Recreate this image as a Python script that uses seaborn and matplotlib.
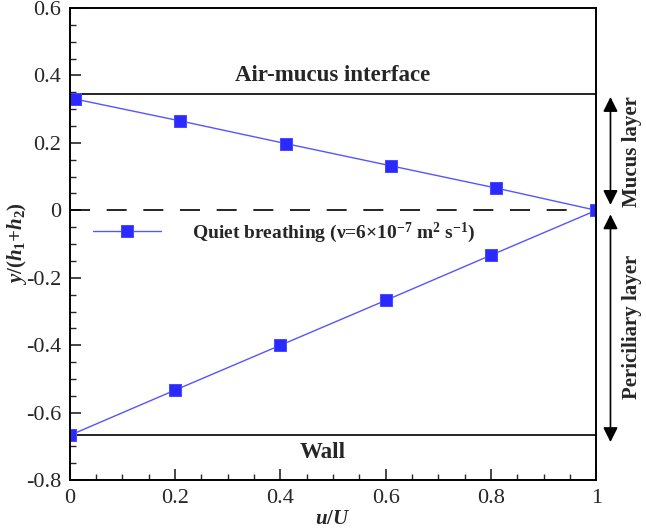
import matplotlib
matplotlib.use("Agg")
import matplotlib.pyplot as plt
import seaborn as sns
import pandas as pd

# velocity profile, quiet breathing (mucus layer on top, periciliary layer below)
u_over_U = [0.01, 0.21, 0.41, 0.61, 0.81, 1.0, 0.8, 0.6, 0.4, 0.2, 0.0]
y_over_h = [0.33, 0.265, 0.198, 0.132, 0.066, 0.0, -0.133, -0.267, -0.4, -0.533, -0.667]
interface_y = 0.345
wall_y = -0.667
x_ticks = [0, 0.2, 0.4, 0.6, 0.8, 1]
y_ticks = [-0.8, -0.6, -0.4, -0.2, 0, 0.2, 0.4, 0.6]

sns.set_style("ticks")
plt.rcParams['font.family'] = ['Liberation Serif', 'DejaVu Serif']
plt.rcParams['mathtext.fontset'] = 'custom'
plt.rcParams['mathtext.rm'] = 'Liberation Serif:bold'
plt.rcParams['mathtext.it'] = 'Liberation Serif:italic:bold'
plt.rcParams['mathtext.bf'] = 'Liberation Serif:bold'
plt.rcParams['axes.unicode_minus'] = False

df = pd.DataFrame({'u': u_over_U, 'y': y_over_h})

fig = plt.figure(figsize=(6.46, 5.30), dpi=100)
ax = fig.add_axes([0.108, 0.094, 0.815, 0.891])

sns.lineplot(data=df, x='u', y='y', sort=False, estimator=None, ax=ax,
             color='#5555ff', lw=1.0, marker='s', markersize=8,
             markerfacecolor='#2a2aff', markeredgecolor='#4a4aff',
             label='Quiet breathing (\u03bd=6\u00d710$^{-7}$ m$^{2}$ s$^{-1}$)')

ax.axhline(interface_y, color='black', lw=1.2, zorder=1)
ax.axhline(wall_y, color='black', lw=1.2, zorder=1)
ax.hlines(0, 0, 0.97, colors='black', lw=1.2, linestyles=(0, (12, 10)), zorder=1)

ax.text(0.5, interface_y + 0.025, 'Air-mucus interface', ha='center', va='bottom',
        fontsize=16.5, fontweight='bold')
ax.text(0.48, wall_y - 0.02, 'Wall', ha='center', va='top',
        fontsize=16.5, fontweight='bold')

# layer arrows outside the right spine
arr = dict(arrowstyle='<|-|>', color='black', lw=1.2, mutation_scale=22,
           shrinkA=0, shrinkB=0)
ax.annotate('', xy=(1.027, 0.336), xytext=(1.027, 0.016),
            xycoords=('axes fraction', 'data'), textcoords=('axes fraction', 'data'),
            arrowprops=arr, annotation_clip=False)
ax.annotate('', xy=(1.027, -0.012), xytext=(1.027, -0.687),
            xycoords=('axes fraction', 'data'), textcoords=('axes fraction', 'data'),
            arrowprops=arr, annotation_clip=False)
ax.text(1.068, 0.175, 'Mucus layer', rotation=90, ha='center', va='center',
        fontsize=15, fontweight='bold', transform=ax.get_yaxis_transform(), clip_on=False)
ax.text(1.068, -0.345, 'Periciliary layer', rotation=90, ha='center', va='center',
        fontsize=15, fontweight='bold', transform=ax.get_yaxis_transform(), clip_on=False)

ax.set_xlim(0, 1)
ax.set_ylim(-0.8, 0.6)
ax.set_xticks(x_ticks)
ax.set_xticklabels(['0', '0.2', '0.4', '0.6', '0.8', '1'])
ax.set_yticks(y_ticks)
ax.set_yticklabels(['-0.8', '-0.6', '-0.4', '-0.2', '0', '0.2', '0.4', '0.6'])
ax.xaxis.set_minor_locator(matplotlib.ticker.MultipleLocator(0.05))
ax.yaxis.set_minor_locator(matplotlib.ticker.MultipleLocator(0.05))
ax.tick_params(which='major', direction='in', length=8, width=1.2, labelsize=16, pad=6)
ax.tick_params(which='minor', direction='in', length=4, width=1.0)
for s in ax.spines.values():
    s.set_linewidth(1.4)
    s.set_color('black')

ax.set_xlabel('$u$/$U$', fontsize=15, fontweight='bold', labelpad=1)
ax.set_ylabel('$y$/($h_1$+$h_2$)', fontsize=15, fontweight='bold')
ax.yaxis.set_label_coords(-0.078, 0.5)

leg = ax.legend(loc='center left', bbox_to_anchor=(0.044, 0.524), frameon=False,
                handlelength=3.5, handletextpad=1.6, borderpad=0, borderaxespad=0,
                prop={'size': 14, 'weight': 'bold'})

fig.savefig('out.png', dpi=100)
